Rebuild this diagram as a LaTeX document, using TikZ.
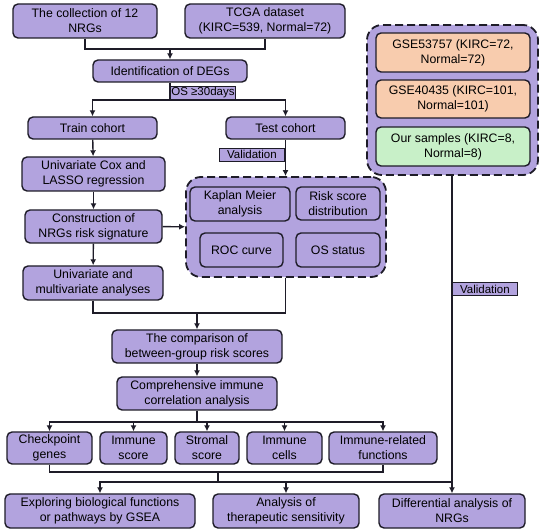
\documentclass[tikz,border=0pt]{standalone}
\usepackage{fontspec}
\setmainfont{Liberation Sans}
\usetikzlibrary{arrows.meta}
\definecolor{nrgpurple}{RGB}{178,163,222}
\definecolor{nrgorange}{RGB}{248,204,174}
\definecolor{nrggreen}{RGB}{200,240,200}
\definecolor{nrgline}{RGB}{30,28,40}
\begin{document}
\begin{tikzpicture}[x=1pt, y=-1pt,
        box/.style={draw=nrgline, fill=nrgpurple, line width=1.4pt, rounded corners=5pt, align=center, inner sep=0pt, font=\fontsize{12.3}{15}\selectfont},
        tag/.style={draw=nrgline, fill=nrgpurple, line width=0.9pt, inner sep=0pt, minimum height=13, anchor=west, font=\fontsize{11.5}{12}\selectfont},
        group/.style={draw=nrgline, fill=nrgpurple, line width=1.8pt, dash pattern=on 8pt off 4pt, rounded corners=15pt},
        link/.style={nrgline, line width=1.4pt},
        arr/.style={link, -{Latex[length=6pt,width=6pt]}}]
        \useasboundingbox (0,0) rectangle (542,532);
        \def\rowh{34}

        % top of the left column
        \node[box, minimum width=144, minimum height=\rowh] (coll) at (85,21) {The collection of 12\\NRGs};
        \node[box, minimum width=160, minimum height=\rowh] (tcga) at (265,21) {TCGA dataset\\(KIRC=539, Normal=72)};
        \node[box, minimum width=154, minimum height=22] (degs) at (170,71) {Identification of DEGs};
        \node[box, minimum width=129, minimum height=22] (train) at (92.5,128) {Train cohort};
        \node[box, minimum width=119, minimum height=22] (test) at (285.5,128) {Test cohort};
        \node[box, minimum width=143, minimum height=\rowh] (cox) at (93.5,174) {Univariate Cox and\\LASSO regression};
        \node[box, minimum width=137, minimum height=33] (cons) at (93.5,226.5) {Construction of\\NRGs risk signature};
        \node[box, minimum width=140, minimum height=\rowh] (multi) at (93,283) {Univariate and\\multivariate analyses};

        % test cohort results
        \node[group, minimum width=200, minimum height=100] (valbox) at (286,227) {};
        \node[box, minimum width=100, minimum height=\rowh] (km) at (240,204) {Kaplan Meier\\analysis};
        \node[box, minimum width=84, minimum height=33] (rs) at (338,203.5) {Risk score\\distribution};
        \node[box, minimum width=83, minimum height=\rowh] (roc) at (241.5,250) {ROC curve};
        \node[box, minimum width=84, minimum height=\rowh] (oss) at (338,250) {OS status};

        % external cohorts
        \node[group, minimum width=171, minimum height=150] (extbox) at (452.5,100) {};
        \node[box, fill=nrgorange, minimum width=154, minimum height=39] (gsea1) at (453,52.5) {GSE53757 (KIRC=72,\\Normal=72)};
        \node[box, fill=nrgorange, minimum width=154, minimum height=38] (gsea2) at (453,99) {GSE40435 (KIRC=101,\\Normal=101)};
        \node[box, fill=nrggreen, minimum width=154, minimum height=39] (ours) at (453,146.5) {Our samples (KIRC=8,\\Normal=8)};

        % lower part
        \node[box, minimum width=170, minimum height=33] (comp) at (197,346.5) {The comparison of\\between-group risk scores};
        \node[box, minimum width=160, minimum height=33] (corr) at (197,393.5) {Comprehensive immune\\correlation analysis};
        \foreach \n/\x/\w/\t in {chk/49.5/85/{Checkpoint\\genes}, isc/133.5/67/{Immune\\score}, ssc/207/64/{Stromal\\score}, icl/284.5/75/{Immune\\cells}, irf/383/108/{Immune-related\\functions}} {
            \node[box, minimum width=\w, minimum height=32] (\n) at (\x,448) {\t};
        }
        \node[box, minimum width=190, minimum height=\rowh] (gsea) at (100,511) {Exploring biological functions\\or pathways by GSEA};
        \node[box, minimum width=146, minimum height=\rowh] (ther) at (286,511) {Analysis of\\therapeutic sensitivity};
        \node[box, minimum width=146, minimum height=\rowh] (diff) at (452,511) {Differential analysis of\\NRGs};

        % connectors
        \coordinate (j1) at (170,49);
        \coordinate (j2) at (170,100);
        \coordinate (j3) at (197,313);
        \coordinate (j4) at (197,422);
        \coordinate (j5) at (218,472);
        \coordinate (j6) at (218,482);
        \draw[link] (coll.south) |- (j1) -| (tcga.south);
        \draw[arr] (j1) -- (degs.north);
        \draw[link] (degs.south) -- (j2);
        \draw[arr] (j2) -| (train.north);
        \draw[arr] (j2) -| (test.north);
        \draw[arr] (train) -- (cox);
        \draw[arr] (cox) -- (cons);
        \draw[arr] (cons) -- (multi);
        \draw[arr] (test.south) -- (valbox.north -| test.south);
        \draw[arr] (cons) -- (valbox);
        \draw[link] (multi.south) |- (j3) -| (valbox.south -| test.south);
        \draw[arr] (j3) -- (comp.north);
        \draw[arr] (comp) -- (corr);
        \draw[link] (corr.south) -- (j4);
        \foreach \n in {chk,isc,ssc,icl,irf} {\draw[arr] (j4) -| (\n.north);}
        \draw[link] (chk.south) |- (j5) -| (irf.south);
        \draw[link] (j5) -- (j6) -- (j6 -| diff.north);
        \draw[arr] (j6) -| (gsea.north);
        \draw[arr] (j6) -| (ther.north);
        \draw[arr] (extbox.south -| diff.north) -- (diff.north);

        % labels on the lines
        \node[tag, minimum width=65] (ostag) at (170,92.5) {OS ≥30days};
        \node[tag, minimum width=65] (valtag1) at (219,154.5) {Validation};
        \node[tag, minimum width=65] (valtag2) at (452,289) {Validation};
    \end{tikzpicture}
\end{document}
